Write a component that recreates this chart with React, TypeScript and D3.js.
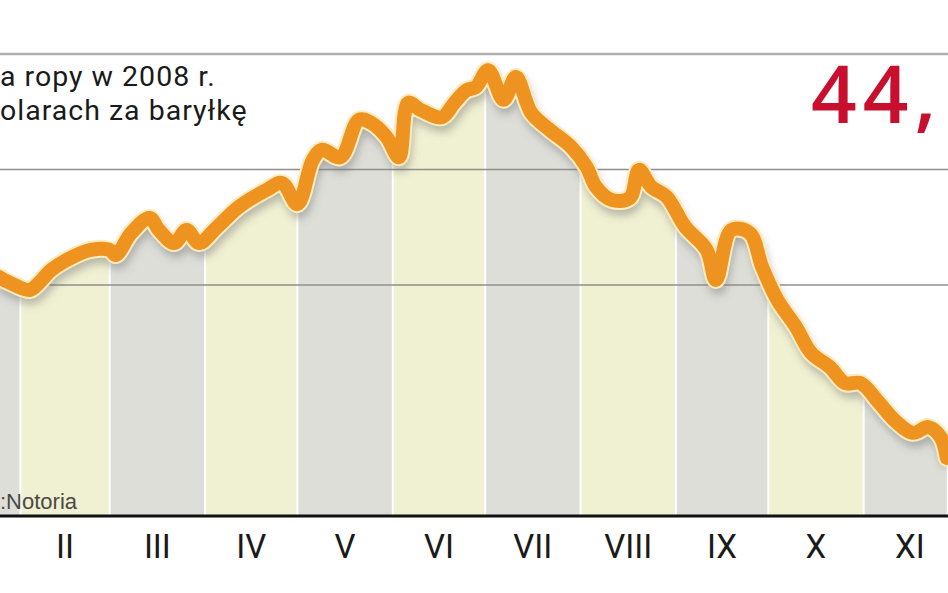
import React from 'react';
import * as d3 from 'd3';

const W = 948;
const H = 593;

// Oil price 2008, USD per barrel
const dates = [
  '2008-01-25', '2008-01-28', '2008-02-04', '2008-02-07', '2008-02-11', '2008-02-18', '2008-02-24',
  '2008-03-01', '2008-03-03', '2008-03-08', '2008-03-14', '2008-03-17', '2008-03-22', '2008-03-26',
  '2008-03-30', '2008-04-05', '2008-04-12', '2008-04-21', '2008-04-26', '2008-05-01', '2008-05-06',
  '2008-05-09', '2008-05-15', '2008-05-21', '2008-05-25', '2008-05-30', '2008-06-03', '2008-06-06',
  '2008-06-10', '2008-06-17', '2008-06-21', '2008-06-25', '2008-06-28', '2008-07-02', '2008-07-07',
  '2008-07-11', '2008-07-16', '2008-07-22', '2008-07-29', '2008-08-03', '2008-08-06', '2008-08-11',
  '2008-08-17', '2008-08-20', '2008-08-24', '2008-08-29', '2008-09-04', '2008-09-11', '2008-09-14',
  '2008-09-19', '2008-09-25', '2008-09-29', '2008-10-04', '2008-10-10', '2008-10-15', '2008-10-21',
  '2008-10-26', '2008-10-31', '2008-11-06', '2008-11-11', '2008-11-17', '2008-11-22', '2008-11-26',
  '2008-11-28',
];
const prices = [
  92.1, 90.8, 88.7, 90.5, 93.9, 97.3, 99.1,
  99.1, 97.8, 103.5, 107.4, 104.3, 100.9, 104.3,
  100.9, 105.1, 110.3, 114.7, 116.5, 111.0, 122.5,
  125.1, 123.2, 132.9, 132.1, 128.4, 123.2, 137.3,
  135.5, 133.6, 137.3, 140.6, 141.4, 145.8, 138.1,
  144.0, 134.7, 130.3, 125.8, 120.6, 115.5, 112.1,
  112.6, 119.9, 115.5, 112.9, 105.1, 99.1, 91.3,
  104.3, 103.5, 94.7, 86.1, 79.1, 72.3, 68.7,
  64.5, 64.5, 59.4, 54.9, 51.6, 53.1, 50.5,
  45.1,
];

const monthLabels = ['I', 'II', 'III', 'IV', 'V', 'VI', 'VII', 'VIII', 'IX', 'X', 'XI'];
const gridValues = [150, 120, 90];
const titleLines = ['a ropy w 2008 r.', 'olarach za baryłkę'];
const bigValue = '44,';
const sourceText = ':Notoria';

export default function App() {
  const parse = d3.timeParse('%Y-%m-%d');
  const data = dates.map((d, i) => ({ date: parse(d) as Date, v: prices[i] }));

  const x = d3
    .scaleTime()
    .domain([new Date(2008, 0, 1), new Date(2008, 11, 1)])
    .range([-75, 956]);
  const y = d3.scaleLinear().domain([30, 150]).range([516, 54]);

  const months = d3.timeMonth.range(new Date(2008, 0, 1), new Date(2008, 11, 1));

  const curve = d3.curveCatmullRom.alpha(0.5);
  const line = d3
    .line<{ date: Date; v: number }>()
    .x((d) => x(d.date))
    .y((d) => y(d.v))
    .curve(curve);
  const area = d3
    .area<{ date: Date; v: number }>()
    .x((d) => x(d.date))
    .y0(y(30))
    .y1((d) => y(d.v))
    .curve(curve);

  const lineD = line(data) || '';
  const areaD = area(data) || '';

  return (
    <svg
      width={W}
      height={H}
      style={{ position: 'absolute', left: 0, top: 0, background: '#fff' }}
    >
      <defs>
        <clipPath id="under">
          <path d={areaD} />
        </clipPath>
        <filter id="blur" x="-10%" y="-10%" width="120%" height="130%">
          <feGaussianBlur stdDeviation="4" />
        </filter>
      </defs>
      <rect x={0} y={0} width={W} height={H} fill="#fff" />

      {/* month bands under the curve */}
      <g clipPath="url(#under)">
        {months.map((m, i) => {
          const x0 = x(m);
          const x1 = x(d3.timeMonth.offset(m, 1));
          return (
            <rect
              key={i}
              x={x0 + 1}
              y={40}
              width={x1 - x0 - 2}
              height={y(30) - 40}
              fill={i % 2 === 0 ? '#ddded8' : '#f0f0d2'}
            />
          );
        })}
      </g>

      {/* grid lines */}
      {gridValues.map((g, i) => (
        <line
          key={g}
          x1={0}
          x2={W}
          y1={y(g)}
          y2={y(g)}
          stroke={i === 0 ? '#b0b0b0' : '#8f8f8f'}
          strokeWidth={i === 0 ? 2.5 : 1.5}
        />
      ))}

      {/* title */}
      <g fontFamily="Roboto, sans-serif" fontSize={28.5} letterSpacing={1} fill="#1a1a1a">
        {titleLines.map((t, i) => (
          <text key={i} x={0} y={86 + i * 34}>
            {t}
          </text>
        ))}
      </g>

      <text
        x={811}
        y={123}
        fontFamily="'Open Sans', sans-serif"
        fontSize={80}
        fontWeight={600}
        letterSpacing={6}
        fill="#c8102e"
      >
        {bigValue}
      </text>

      {/* shadow */}
      <path
        d={lineD}
        fill="none"
        stroke="#6f6f6f"
        strokeOpacity={0.45}
        strokeWidth={15}
        strokeLinejoin="round"
        transform="translate(2,7)"
        filter="url(#blur)"
      />
      {/* outline + line */}
      <path
        d={lineD}
        fill="none"
        stroke="#fdecc0"
        strokeWidth={18}
        strokeLinejoin="round"
        strokeLinecap="round"
      />
      <path
        d={lineD}
        fill="none"
        stroke="#ef9320"
        strokeWidth={14}
        strokeLinejoin="round"
        strokeLinecap="round"
      />

      {/* source */}
      <text
        x={0}
        y={509}
        fontFamily="'Liberation Sans', Arial, sans-serif"
        fontSize={22}
        fill="#4a4a44"
      >
        {sourceText}
      </text>

      {/* baseline */}
      <line x1={0} x2={W} y1={y(30)} y2={y(30)} stroke="#111" strokeWidth={3} />

      {/* month labels */}
      <g fontFamily="Roboto, sans-serif" fontSize={33} fill="#1a1a1a" textAnchor="middle">
        {months.map((m, i) => {
          const cx = (x(m) + x(d3.timeMonth.offset(m, 1))) / 2;
          if (cx < 10) return null;
          return (
            <text key={i} x={cx} y={558}>
              {monthLabels[i]}
            </text>
          );
        })}
      </g>
    </svg>
  );
}
